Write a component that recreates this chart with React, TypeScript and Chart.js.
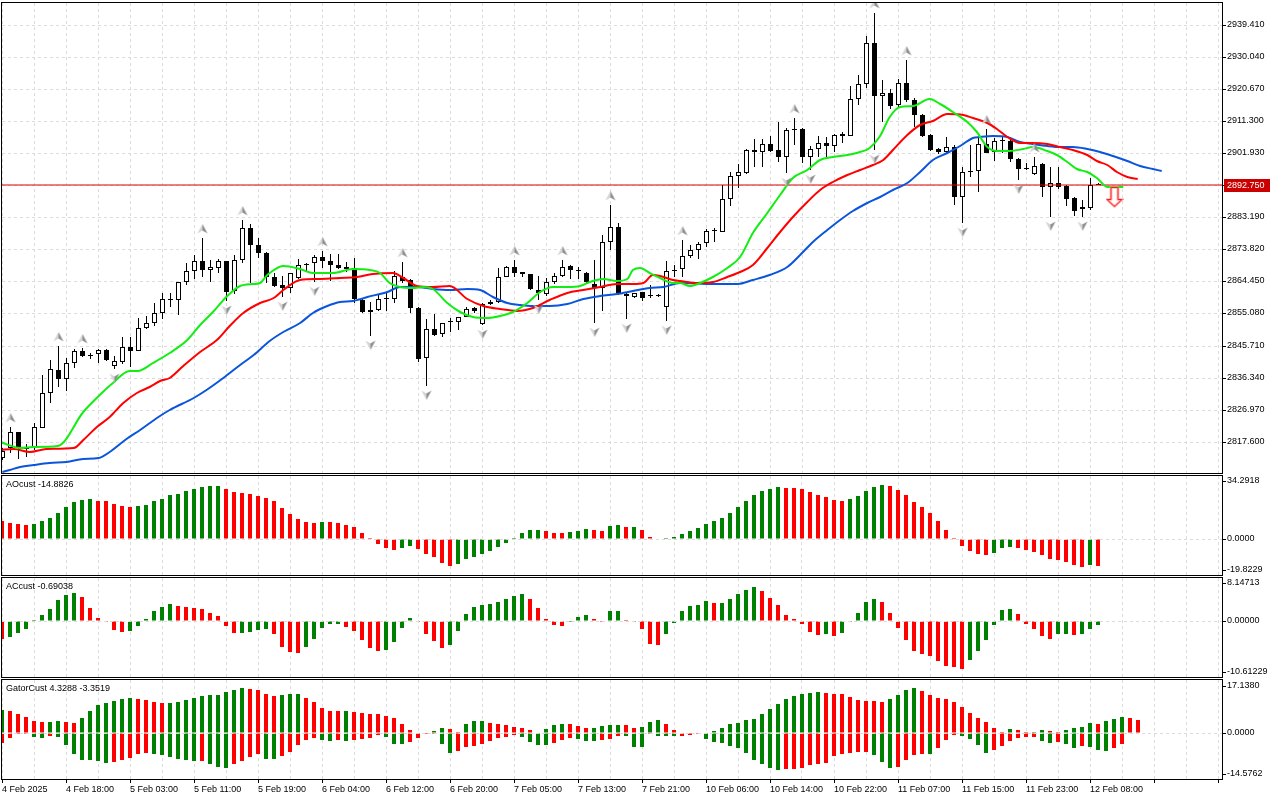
import React, { useEffect, useRef } from "react";
import { Chart, registerables } from "chart.js";

Chart.register(...registerables);

// ================= DATA =================
const timeLabels = [
  "4 Feb 2025", "4 Feb 18:00", "5 Feb 03:00", "5 Feb 11:00", "5 Feb 19:00", "6 Feb 04:00",
  "6 Feb 12:00", "6 Feb 20:00", "7 Feb 05:00", "7 Feb 13:00", "7 Feb 21:00", "10 Feb 06:00",
  "10 Feb 14:00", "10 Feb 22:00", "11 Feb 07:00", "11 Feb 15:00", "11 Feb 23:00", "12 Feb 08:00",
];
const priceTicks = [2939.41, 2930.04, 2920.67, 2911.3, 2901.93, 2892.56, 2883.19, 2873.82, 2864.45, 2855.08, 2845.71, 2836.34, 2826.97, 2817.6];
const lastPrice = 2892.75;

const openP = [
  2812.73, 2815.66, 2820.34, 2815.66, 2815.66, 2821.7, 2831.74, 2838.46, 2835.83, 2840.5,
  2844.01, 2842.94, 2843.14, 2844.31, 2839.63, 2840.99, 2845.18, 2844.21, 2850.74, 2852.2,
  2855.12, 2859.21, 2858.92, 2864.18, 2867.4, 2870.32, 2867.69, 2868.28, 2870.32, 2861.55,
  2870.62, 2879.97, 2875.0, 2872.66, 2865.65, 2863.41, 2862.43, 2865.35, 2869.45, 2869.74,
  2871.49, 2870.42, 2869.15, 2868.57, 2868.28, 2859.02, 2855.99, 2855.99, 2859.41, 2859.31,
  2865.84, 2864.87, 2856.68, 2841.97, 2850.44, 2849.08, 2852.59, 2852.49, 2854.15, 2856.78,
  2851.91, 2857.75, 2858.34, 2865.84, 2868.57, 2867.11, 2866.52, 2861.94, 2860.68, 2864.18,
  2866.13, 2868.96, 2867.79, 2867.01, 2863.6, 2862.43, 2876.07, 2880.26, 2860.77, 2859.8,
  2861.26, 2860.48, 2860.48, 2856.88, 2867.79, 2867.99, 2871.88, 2873.64, 2875.59, 2879.19,
  2878.99, 2888.45, 2895.37, 2896.24, 2902.87, 2902.18, 2904.53, 2902.87, 2900.92, 2909.01,
  2909.01, 2900.92, 2903.16, 2904.82, 2904.14, 2907.06, 2907.06, 2917.68, 2922.06, 2934.05,
  2918.75, 2919.43, 2916.02, 2922.36, 2917.49, 2913.1, 2907.25, 2903.16, 2902.38, 2903.65,
  2889.03, 2896.54, 2896.73, 2904.53, 2902.19, 2905.79, 2905.5, 2900.14, 2897.41, 2895.76,
  2898.78, 2891.96, 2893.12, 2892.35, 2888.93, 2885.62, 2885.82, 2892.95,
];
const highP = [
  2815.66, 2821.8, 2820.53, 2816.93, 2823.16, 2837.1, 2841.48, 2845.57, 2841.97, 2844.6,
  2844.89, 2843.43, 2844.79, 2844.6, 2842.55, 2848.11, 2848.11, 2853.85, 2854.34, 2858.05,
  2860.97, 2860.97, 2864.38, 2869.74, 2872.18, 2877.05, 2870.71, 2870.91, 2870.52, 2872.18,
  2882.41, 2881.14, 2877.05, 2872.95, 2866.82, 2866.04, 2867.01, 2870.91, 2869.93, 2872.18,
  2873.34, 2872.47, 2872.47, 2870.03, 2871.2, 2859.21, 2858.34, 2860.48, 2860.97, 2867.6,
  2870.23, 2865.06, 2856.88, 2853.37, 2854.93, 2852.39, 2853.66, 2854.15, 2857.07, 2857.07,
  2858.24, 2859.02, 2868.28, 2868.96, 2870.71, 2867.3, 2866.72, 2866.13, 2865.35, 2867.01,
  2870.71, 2869.15, 2868.57, 2867.3, 2870.71, 2878.02, 2886.79, 2881.43, 2860.97, 2861.16,
  2861.46, 2863.41, 2860.77, 2870.42, 2869.25, 2876.56, 2875.1, 2876.07, 2879.68, 2879.97,
  2892.63, 2896.54, 2898.68, 2903.06, 2905.99, 2905.99, 2906.96, 2911.15, 2909.2, 2912.13,
  2909.2, 2904.14, 2906.96, 2906.77, 2907.45, 2908.23, 2921.58, 2924.79, 2936.19, 2942.82,
  2923.33, 2920.6, 2923.53, 2929.18, 2917.97, 2913.3, 2907.45, 2903.35, 2906.77, 2904.33,
  2898.0, 2904.33, 2906.77, 2908.91, 2906.28, 2906.77, 2905.79, 2900.43, 2898.97, 2900.92,
  2898.97, 2898.0, 2897.8, 2892.64, 2889.03, 2888.25, 2894.78, 2893.1,
];
const lowP = [
  2812.25, 2814.2, 2812.44, 2813.22, 2815.17, 2821.51, 2829.01, 2833.69, 2832.42, 2839.24,
  2842.26, 2841.68, 2840.7, 2841.19, 2838.95, 2840.31, 2839.53, 2844.01, 2850.44, 2851.42,
  2853.47, 2856.88, 2854.63, 2863.41, 2865.06, 2865.84, 2864.38, 2866.82, 2858.83, 2860.68,
  2869.93, 2863.89, 2871.2, 2863.89, 2862.72, 2859.8, 2860.97, 2865.16, 2867.5, 2864.4,
  2868.28, 2864.6, 2867.99, 2867.3, 2858.05, 2855.12, 2848.59, 2855.8, 2855.8, 2858.05,
  2863.89, 2855.32, 2840.99, 2833.98, 2848.59, 2848.11, 2849.76, 2850.25, 2853.95, 2855.12,
  2851.71, 2857.56, 2858.05, 2865.65, 2865.84, 2865.84, 2861.94, 2859.02, 2860.19, 2863.7,
  2865.84, 2865.06, 2865.06, 2863.89, 2852.39, 2855.9, 2873.64, 2860.48, 2853.37, 2859.51,
  2858.82, 2859.51, 2859.99, 2852.98, 2865.84, 2865.84, 2871.2, 2871.0, 2874.42, 2876.07,
  2878.8, 2886.5, 2891.86, 2895.85, 2898.0, 2898.0, 2902.38, 2899.46, 2896.24, 2904.33,
  2898.97, 2897.02, 2900.92, 2900.92, 2902.38, 2905.01, 2906.86, 2916.02, 2920.9, 2902.87,
  2911.15, 2914.76, 2915.54, 2917.0, 2909.69, 2906.77, 2902.67, 2901.7, 2901.89, 2886.79,
  2881.63, 2894.88, 2890.69, 2901.89, 2899.65, 2902.09, 2899.46, 2894.1, 2897.02, 2895.56,
  2889.23, 2883.38, 2891.57, 2886.6, 2883.67, 2883.38, 2885.33, 2892.5,
];
const closeP = [
  2814.88, 2820.34, 2815.66, 2815.37, 2821.8, 2831.74, 2838.75, 2835.83, 2840.5, 2844.01,
  2842.55, 2842.55, 2844.31, 2841.48, 2841.09, 2845.18, 2844.21, 2850.74, 2852.2, 2855.12,
  2859.21, 2858.92, 2864.18, 2867.4, 2870.32, 2867.69, 2868.57, 2870.32, 2861.46, 2870.62,
  2879.97, 2875.0, 2872.66, 2865.65, 2863.21, 2862.43, 2866.82, 2869.15, 2869.15, 2871.49,
  2870.52, 2869.15, 2868.28, 2868.18, 2859.21, 2855.61, 2855.61, 2859.31, 2859.6, 2865.94,
  2864.67, 2856.58, 2841.77, 2850.44, 2848.79, 2852.2, 2852.78, 2853.95, 2856.29, 2855.8,
  2857.75, 2858.34, 2865.84, 2868.57, 2867.01, 2866.52, 2862.14, 2860.97, 2864.18, 2866.13,
  2868.76, 2867.79, 2867.5, 2864.38, 2862.43, 2876.07, 2880.26, 2860.97, 2860.19, 2860.97,
  2859.7, 2860.19, 2860.19, 2867.5, 2867.5, 2871.88, 2873.64, 2875.39, 2879.29, 2879.39,
  2888.45, 2895.37, 2896.34, 2902.87, 2902.18, 2904.53, 2902.67, 2900.92, 2908.72, 2908.72,
  2900.92, 2903.16, 2904.82, 2904.14, 2907.25, 2907.55, 2917.68, 2922.06, 2934.05, 2918.75,
  2919.43, 2915.73, 2922.36, 2917.49, 2913.1, 2906.96, 2902.87, 2902.38, 2903.84, 2889.23,
  2896.34, 2896.73, 2904.53, 2902.09, 2905.5, 2905.5, 2900.14, 2897.41, 2897.22, 2898.29,
  2891.96, 2893.12, 2892.15, 2888.64, 2885.13, 2886.3, 2892.64, 2892.75,
];

const fractalUpIdx = [1, 7, 10, 25, 30, 40, 50, 64, 70, 76, 85, 99, 109, 113, 123, 129];
const fractalDownIdx = [14, 28, 35, 39, 46, 53, 60, 67, 74, 78, 83, 98, 101, 109, 120, 127, 131, 135];
const sellSignalIdx = 139;
const sellSignalPrice = 2889.1;

// Alligator lines (bar index, price)
const lipsIdx = [-0.3, 2.2, 3.8, 6.9, 10.1, 11.9, 13.8, 15.9, 16.9, 18.8, 20.9, 23.1, 24.7, 26.3, 28.1, 29.7, 31.3, 32.2, 33.1, 35.1, 37.2, 38.8, 41.3, 43.8, 45.9, 47.2, 48.4, 49.7, 51.3, 52.6, 53.8, 55.6, 57.2, 58.8, 60.6, 62.2, 63.8, 65.6, 67.2, 68.8, 70.6, 72.2, 73.4, 75.1, 76.8, 78.1, 78.8, 79.7, 80.9, 82.2, 83.8, 84.7, 85.9, 87.2, 88.8, 90.6, 92.2, 93.8, 95.6, 97.2, 98.8, 100.6, 102.2, 103.8, 105.6, 107.2, 108.4, 109.7, 110.9, 112.2, 113.8, 115.9, 117.2, 118.8, 120.6, 121.8, 123.1, 124.3, 125.9, 127.6, 128.8, 130.6, 131.8, 133.1, 134.3, 135.6, 136.8, 138.1, 140.1];
const lipsVal = [2817.6, 2815.7, 2816.0, 2816.3, 2826.4, 2830.8, 2834.8, 2838.3, 2838.3, 2840.5, 2843.4, 2847.3, 2851.7, 2855.6, 2860.2, 2863.1, 2863.6, 2864.1, 2866.3, 2869.0, 2868.1, 2866.8, 2867.0, 2868.0, 2867.8, 2866.8, 2863.9, 2862.7, 2862.4, 2862.7, 2862.2, 2858.1, 2855.6, 2854.1, 2853.8, 2854.3, 2855.6, 2858.2, 2861.5, 2862.7, 2862.9, 2863.1, 2864.3, 2865.1, 2864.7, 2865.1, 2867.9, 2868.5, 2866.8, 2865.4, 2864.1, 2863.9, 2863.2, 2863.9, 2865.8, 2868.3, 2871.7, 2878.5, 2884.4, 2889.7, 2894.6, 2897.0, 2900.0, 2900.9, 2901.4, 2902.4, 2903.4, 2907.0, 2912.6, 2915.4, 2915.7, 2917.7, 2916.3, 2914.1, 2911.1, 2908.2, 2903.8, 2902.6, 2902.6, 2903.1, 2903.7, 2902.6, 2901.4, 2899.5, 2897.3, 2896.5, 2894.6, 2892.1, 2892.1];

const teethIdx = [-0.3, 1.4, 3.4, 5.5, 8.9, 10.1, 11.8, 13.4, 15.1, 16.8, 18.4, 19.7, 20.9, 22.6, 24.7, 26.8, 28.4, 30.1, 32.2, 33.9, 35.1, 37.2, 39.7, 42.2, 44.3, 46.3, 48.8, 50.1, 51.8, 53.8, 55.9, 58.1, 60.1, 62.2, 64.3, 66.3, 68.4, 70.6, 72.6, 74.7, 76.8, 78.8, 80.1, 81.3, 82.2, 83.8, 84.7, 86.8, 88.8, 90.6, 92.2, 93.8, 95.6, 97.2, 98.8, 100.6, 102.2, 103.8, 105.6, 107.2, 108.8, 110.1, 111.3, 113.1, 114.7, 116.3, 118.1, 120.1, 121.3, 123.1, 124.3, 125.6, 127.2, 128.8, 130.6, 132.2, 133.8, 135.6, 136.8, 138.1, 139.3, 140.6, 141.9];
const teethVal = [2815.2, 2815.4, 2814.7, 2815.4, 2815.7, 2818.1, 2822.0, 2824.9, 2829.0, 2831.7, 2833.7, 2835.4, 2836.3, 2839.7, 2843.9, 2847.3, 2851.4, 2855.1, 2858.1, 2859.5, 2861.9, 2864.9, 2865.1, 2865.4, 2865.8, 2866.6, 2866.8, 2865.4, 2863.1, 2862.7, 2863.1, 2859.2, 2857.3, 2856.3, 2855.9, 2856.6, 2859.0, 2861.0, 2861.9, 2862.7, 2863.7, 2863.7, 2863.9, 2866.3, 2866.1, 2864.9, 2864.6, 2863.9, 2864.2, 2865.8, 2867.3, 2869.3, 2874.1, 2879.0, 2883.4, 2887.8, 2891.2, 2893.6, 2895.6, 2897.0, 2898.5, 2900.0, 2902.9, 2907.3, 2910.2, 2911.4, 2913.3, 2913.1, 2912.1, 2910.7, 2908.9, 2906.8, 2905.0, 2904.8, 2904.5, 2903.7, 2902.9, 2901.4, 2899.7, 2898.5, 2896.5, 2894.9, 2894.4];

const jawIdx = [0.0, 0.9, 2.2, 3.9, 5.9, 8.0, 10.1, 12.0, 13.4, 15.5, 17.2, 19.3, 20.9, 23.9, 25.5, 27.6, 29.7, 31.4, 33.4, 35.1, 37.2, 38.8, 40.6, 42.2, 43.8, 45.6, 48.1, 49.7, 51.8, 53.8, 55.9, 58.1, 59.7, 61.3, 63.1, 64.7, 66.3, 68.4, 70.6, 72.6, 74.7, 76.8, 78.8, 80.9, 82.6, 84.7, 88.8, 91.9, 93.8, 95.9, 98.1, 99.7, 101.3, 103.1, 104.7, 106.3, 108.1, 109.7, 111.3, 113.1, 114.7, 116.3, 118.1, 119.7, 121.3, 122.2, 123.8, 125.6, 127.2, 128.8, 130.6, 132.2, 133.8, 135.6, 137.2, 138.8, 140.6, 142.2, 143.8, 144.9];
const jawVal = [2808.6, 2809.3, 2810.1, 2810.8, 2811.5, 2811.6, 2812.5, 2812.9, 2814.7, 2818.3, 2821.0, 2824.4, 2826.9, 2830.3, 2832.7, 2836.1, 2840.0, 2842.9, 2847.1, 2849.6, 2852.2, 2855.1, 2857.3, 2858.5, 2858.8, 2860.0, 2861.5, 2862.7, 2862.7, 2862.2, 2861.9, 2862.2, 2861.9, 2860.0, 2858.2, 2857.6, 2857.3, 2857.3, 2857.9, 2859.2, 2860.2, 2860.8, 2861.7, 2862.4, 2862.9, 2863.9, 2863.6, 2863.6, 2864.9, 2866.3, 2868.8, 2872.2, 2876.1, 2879.5, 2882.4, 2885.0, 2887.3, 2889.2, 2891.2, 2893.1, 2896.5, 2900.0, 2901.9, 2904.0, 2906.3, 2906.8, 2907.0, 2906.6, 2905.3, 2904.5, 2904.0, 2903.8, 2903.7, 2903.1, 2902.3, 2901.1, 2899.7, 2898.2, 2897.3, 2896.8];

const aoValues = [
  9.7, 8.6, 8.2, 7.7, 8.2, 9.7, 11.3, 14.2, 17.5, 20.0,
  21.1, 21.7, 20.6, 20.4, 18.9, 18.0, 17.5, 18.0, 18.4, 20.6,
  21.9, 23.9, 24.4, 26.0, 27.3, 28.2, 28.8, 29.0, 27.3, 25.5,
  25.0, 24.2, 23.3, 22.4, 20.6, 16.9, 13.7, 10.6, 9.1, 8.6,
  9.1, 9.0, 8.6, 7.5, 6.4, 3.3, 0.4, -2.7, -4.9, -6.2,
  -4.9, -3.8, -5.5, -8.2, -10.0, -13.1, -14.9, -13.7, -11.3, -10.0,
  -8.2, -6.7, -4.6, -2.2, 0.3, 3.1, 4.7, 4.8, 4.2, 3.1,
  3.0, 3.6, 4.2, 5.1, 4.6, 4.2, 6.9, 7.3, 6.3, 6.5,
  4.7, 0.9, -0.1, 0.2, 0.9, 2.7, 4.2, 5.8, 8.2, 9.7,
  11.3, 14.2, 17.5, 20.6, 23.9, 26.0, 27.3, 28.2, 27.7, 27.6,
  27.3, 25.5, 23.9, 22.8, 21.1, 20.6, 21.7, 23.3, 26.0, 28.2,
  29.3, 28.8, 26.6, 23.9, 20.0, 17.3, 14.0, 9.7, 4.7, 0.4,
  -3.8, -6.6, -8.2, -8.7, -7.7, -4.9, -4.4, -4.9, -6.0, -7.1,
  -8.7, -10.9, -11.5, -12.6, -14.2, -15.3, -14.6, -14.8826,
];
const acValues = [
  -3.5, -3.0, -2.2, -1.5, 0.1, 1.1, 2.3, 4.0, 4.9, 5.3,
  4.5, 2.5, 0.6, -0.2, -1.7, -2.1, -1.9, -0.9, 0.4, 1.9,
  2.7, 3.2, 2.8, 2.6, 2.5, 2.3, 1.5, 0.9, -0.9, -2.3,
  -2.2, -2.1, -1.7, -1.6, -2.5, -4.9, -5.9, -6.1, -4.9, -3.4,
  -1.3, -0.6, -0.5, -1.1, -1.9, -3.6, -5.1, -5.7, -5.5, -4.0,
  -1.3, 0.6, -0.2, -2.5, -3.8, -5.1, -4.5, -1.9, 1.3, 2.7,
  3.0, 3.2, 3.6, 4.2, 4.7, 5.1, 4.2, 2.5, 0.4, -0.8,
  -0.9, -0.1, 0.8, 1.1, 0.4, -0.1, 1.8, 1.9, 0.1, -0.1,
  -1.5, -4.3, -4.5, -2.4, -0.3, 1.9, 2.8, 3.0, 3.8, 3.4,
  3.5, 4.2, 5.1, 5.9, 6.4, 5.7, 4.4, 3.0, 1.1, 0.4,
  -0.5, -2.0, -2.6, -2.5, -2.8, -2.2, -0.2, 1.5, 3.6, 4.2,
  3.6, 1.5, -1.3, -3.6, -5.7, -6.3, -6.6, -7.6, -8.5, -8.7,
  -9.1, -7.4, -5.7, -3.6, -0.7, 2.1, 2.3, 1.3, -0.5, -1.6,
  -2.8, -3.5, -2.5, -2.4, -2.6, -2.5, -1.5, -0.69038,
];
const gatorUpper = [
  7.5, 7.2, 6.2, 5.2, 4.0, 3.6, 3.7, 4.0, 3.6, 3.5,
  4.9, 7.2, 9.1, 9.7, 10.4, 11.0, 11.3, 11.0, 10.7, 10.0,
  9.7, 9.8, 10.0, 10.7, 11.3, 12.0, 12.3, 12.4, 13.2, 13.9,
  14.5, 14.2, 13.9, 12.6, 12.0, 12.3, 12.6, 12.7, 11.3, 10.0,
  8.1, 7.2, 7.1, 7.2, 6.8, 6.7, 6.2, 6.1, 5.6, 4.9,
  3.0, 1.1, 0.3, 0.2, 0.7, 1.7, 1.4, 0.4, 3.0, 4.0,
  4.1, 3.3, 3.2, 2.7, 2.0, 1.7, 1.1, 0.1, 1.4, 2.7,
  3.0, 2.9, 2.3, 1.7, 1.8, 2.3, 2.7, 2.8, 2.7, 1.7,
  2.0, 3.6, 4.3, 3.0, 1.1, 0.05, 0.04, 0.03, 0.02, 0.7,
  1.7, 3.0, 3.3, 4.3, 4.6, 6.2, 7.8, 9.4, 11.0, 12.0,
  12.6, 12.9, 13.2, 12.9, 12.8, 12.6, 11.6, 10.7, 10.4, 10.3,
  10.0, 11.0, 12.3, 13.9, 14.5, 13.6, 12.3, 11.3, 11.2, 10.0,
  8.4, 6.5, 4.9, 3.6, 1.7, 0.4, 1.4, 1.1, 0.4, 0.5,
  1.1, 0.7, 0.4, 1.1, 1.7, 2.0, 3.3, 3.2, 4.0, 4.6,
  5.2, 5.1, 4.3288,
];
const gatorLower = [
  -3.0, -1.4, -0.2, -0.05, -1.1, -1.4, -0.7, -1.1, -3.6, -6.5,
  -8.4, -8.5, -8.8, -9.4, -9.1, -8.4, -7.8, -6.5, -6.4, -6.5,
  -6.8, -7.5, -8.1, -8.4, -8.8, -8.7, -9.7, -10.7, -11.0, -9.7,
  -8.8, -7.5, -6.5, -8.1, -8.2, -7.2, -5.9, -3.6, -2.1, -1.4,
  -2.1, -2.5, -2.1, -2.5, -2.1, -1.8, -1.4, -0.5, -1.1, -3.3,
  -3.4, -2.7, -1.4, -0.05, -0.03, -3.3, -6.2, -5.6, -4.3, -3.9,
  -3.3, -2.3, -1.4, -1.1, -0.5, -1.1, -2.7, -3.6, -3.7, -3.0,
  -2.0, -1.4, -1.7, -2.3, -2.4, -2.0, -1.7, -0.7, -0.8, -4.3,
  -4.4, -0.2, -0.7, -0.8, -0.9, -0.7, -0.6, -0.2, -1.7, -2.7,
  -3.0, -3.9, -4.6, -6.2, -8.4, -9.7, -11.0, -11.6, -11.5, -11.3,
  -11.2, -10.0, -9.9, -9.4, -7.2, -6.5, -6.2, -5.9, -5.8, -6.8,
  -9.1, -11.0, -10.7, -8.4, -6.8, -6.5, -6.6, -4.6, -2.0, -0.4,
  -0.7, -1.7, -3.6, -6.2, -5.2, -3.9, -2.3, -1.4, -1.1, -1.0,
  -2.3, -3.0, -2.7, -3.3, -4.6, -3.9, -4.3, -5.2, -5.6, -4.6,
  -3.3519,
];

const aoRange = [-19.8229, 34.2918];
const aoTickLabels = ["34.2918", "0.0000", "-19.8229"];
const acRange = [-10.61229, 8.14713];
const acTickLabels = ["8.14713", "0.00000", "-10.61229"];
const gatorRange = [-14.5762, 17.138];
const gatorTickLabels = ["17.1380", "0.0000", "-14.5762"];

// ================= STYLE / LAYOUT =================
const FONT_FAMILY = "'Liberation Sans', Arial, sans-serif";
const FONT = { family: FONT_FAMILY, size: 9 };
const GRID_COLOR = "#dcdcdc";
const GREEN = "#008000";
const RED = "#ff0000";
const W = 1280;
const AXIS_W = 58;
const GRID_STEP = 4;
const LABEL_STEP = 8;
const MAIN_X = { min: -0.0625, max: 152.4375 };
const SUB_X = { min: 0, max: 152.5 };
const MAIN_Y = { min: 2808.446, max: 2945.841 };
const PANEL_INNER_H = 99;
const TICK_INSET_PX = 5.5;

function trendColors(vals: number[], firstUp: boolean, useAbs: boolean) {
  return vals.map((v, i) => {
    if (i === 0) return firstUp ? GREEN : RED;
    const a = useAbs ? Math.abs(v) : v;
    const b = useAbs ? Math.abs(vals[i - 1]) : vals[i - 1];
    return a > b ? GREEN : RED;
  });
}

function makeFractalArrow(up: boolean) {
  const c = document.createElement("canvas");
  c.width = 12;
  c.height = 40;
  const g = c.getContext("2d")!;
  const cy = up ? 11 : 29;
  const s = up ? 1 : -1;
  const tip = [6, cy - 5 * s];
  const lw = [1, cy + 4.5 * s];
  const rw = [11, cy + 4.5 * s];
  const notch = [6, cy + 1.5 * s];
  g.fillStyle = "#d2d2d2";
  g.beginPath();
  g.moveTo(tip[0], tip[1]);
  g.lineTo(lw[0], lw[1]);
  g.lineTo(notch[0], notch[1]);
  g.closePath();
  g.fill();
  g.fillStyle = "#8c8c8c";
  g.beginPath();
  g.moveTo(tip[0], tip[1]);
  g.lineTo(rw[0], rw[1]);
  g.lineTo(notch[0], notch[1]);
  g.closePath();
  g.fill();
  return c;
}

function makeSellArrow() {
  const c = document.createElement("canvas");
  c.width = 18;
  c.height = 22;
  const g = c.getContext("2d")!;
  g.beginPath();
  g.moveTo(5.5, 1.5);
  g.lineTo(12.5, 1.5);
  g.lineTo(12.5, 13.5);
  g.lineTo(16.5, 13.5);
  g.lineTo(9, 20.5);
  g.lineTo(1.5, 13.5);
  g.lineTo(5.5, 13.5);
  g.closePath();
  g.fillStyle = "#ffffff";
  g.fill();
  g.lineWidth = 2.2;
  g.strokeStyle = "#ff9a9a";
  g.stroke();
  g.lineWidth = 1;
  g.strokeStyle = "#ff1a1a";
  g.stroke();
  return c;
}

function decorPlugin(cfg: { hGrid?: number[]; zeroLevel?: boolean; title?: string; priceBox?: number }) {
  return {
    id: "decor",
    beforeDatasetsDraw(chart: any) {
      const { ctx, chartArea: a, scales } = chart;
      const xs = scales.x;
      const ys = scales.y;
      ctx.save();
      ctx.beginPath();
      ctx.rect(a.left, a.top, a.right - a.left, a.bottom - a.top);
      ctx.clip();
      ctx.strokeStyle = GRID_COLOR;
      ctx.lineWidth = 1;
      ctx.setLineDash([3, 3]);
      for (let v = 0; v <= xs.max; v += GRID_STEP) {
        const x = Math.floor(xs.getPixelForValue(v)) + 0.5;
        ctx.beginPath();
        ctx.moveTo(x, a.top);
        ctx.lineTo(x, a.bottom);
        ctx.stroke();
      }
      for (const v of cfg.hGrid || []) {
        const y = Math.round(ys.getPixelForValue(v)) + 0.5;
        ctx.beginPath();
        ctx.moveTo(a.left, y);
        ctx.lineTo(a.right, y);
        ctx.stroke();
      }
      ctx.restore();
    },
    afterDatasetsDraw(chart: any) {
      const { ctx, chartArea: a, scales } = chart;
      ctx.save();
      if (cfg.zeroLevel) {
        const y = Math.round(scales.y.getPixelForValue(0)) + 0.5;
        ctx.strokeStyle = GRID_COLOR;
        ctx.lineWidth = 1;
        ctx.setLineDash([3, 3]);
        ctx.beginPath();
        ctx.moveTo(a.left, y);
        ctx.lineTo(a.right, y);
        ctx.stroke();
      }
      if (cfg.title) {
        ctx.setLineDash([]);
        ctx.fillStyle = "#000";
        ctx.font = `${FONT.size}px ${FONT_FAMILY}`;
        ctx.textBaseline = "middle";
        ctx.textAlign = "left";
        ctx.fillText(cfg.title, a.left + 4, a.top + 9);
      }
      ctx.restore();
    },
    afterDraw(chart: any) {
      const { ctx, chartArea: a, scales } = chart;
      ctx.save();
      ctx.setLineDash([]);
      ctx.strokeStyle = "#000";
      ctx.lineWidth = 1;
      ctx.strokeRect(a.left - 0.5, a.top - 0.5, a.right - a.left + 1, a.bottom - a.top + 1);
      if (cfg.priceBox !== undefined) {
        const y = Math.round(scales.y.getPixelForValue(cfg.priceBox));
        ctx.fillStyle = "#cc0000";
        ctx.fillRect(a.right + 2, y - 6, 46, 13);
        ctx.fillStyle = "#ffffff";
        ctx.font = `${FONT.size}px ${FONT_FAMILY}`;
        ctx.textBaseline = "middle";
        ctx.textAlign = "left";
        ctx.fillText(cfg.priceBox.toFixed(3), a.right + 5, y + 0.5);
      }
      ctx.restore();
    },
  };
}

function baseOptions(padTop: number, padBottom: number) {
  return {
    responsive: false,
    animation: false,
    events: [],
    layout: { padding: { left: 2, right: 0, top: padTop, bottom: padBottom }, autoPadding: false },
    plugins: { legend: { display: false }, tooltip: { enabled: false }, title: { display: false } },
  };
}

function rightAxis(min: number, max: number, tickFn: (s: any) => number[], labelFn: (v: any, i: number) => string) {
  return {
    type: "linear",
    position: "right",
    min,
    max,
    alignToPixels: true,
    afterFit: (s: any) => {
      s.width = AXIS_W;
      s.paddingTop = 0;
      s.paddingBottom = 0;
      s.paddingLeft = 0;
      s.paddingRight = 0;
    },
    afterBuildTicks: (s: any) => {
      s.ticks = tickFn(s).map((v) => ({ value: v }));
    },
    ticks: { autoSkip: false, font: FONT, color: "#000", padding: 1, callback: labelFn },
    grid: { drawOnChartArea: false, drawTicks: true, tickLength: 4, tickColor: "#000", tickWidth: 1 },
    border: { display: false },
  };
}

function subTicks(labels: string[]) {
  return {
    tickFn: (s: any) => {
      const inset = (TICK_INSET_PX * (s.max - s.min)) / PANEL_INNER_H;
      return [s.max - inset, 0, s.min + inset];
    },
    labelFn: (_v: any, i: number) => labels[i],
  };
}

function buildMain() {
  const idx = openP.map((_, i) => i);
  const upImg = makeFractalArrow(true);
  const downImg = makeFractalArrow(false);
  const sellImg = makeSellArrow();
  const line = (xs: number[], ys: number[], color: string, order: number) => ({
    type: "line",
    data: xs.map((x, k) => ({ x, y: ys[k] })),
    borderColor: color,
    borderWidth: 2,
    pointRadius: 0,
    cubicInterpolationMode: "monotone",
    order,
  });
  return {
    type: "bar",
    data: {
      datasets: [
        {
          type: "line",
          showLine: false,
          data: fractalUpIdx.map((i) => ({ x: i, y: highP[i] })),
          pointStyle: upImg,
          pointRadius: 6,
          order: 0,
        },
        {
          type: "line",
          showLine: false,
          data: fractalDownIdx.map((i) => ({ x: i, y: lowP[i] })),
          pointStyle: downImg,
          pointRadius: 6,
          order: 0,
        },
        {
          type: "line",
          showLine: false,
          data: [{ x: sellSignalIdx, y: sellSignalPrice }],
          pointStyle: sellImg,
          pointRadius: 8,
          order: 0,
        },
        line(lipsIdx, lipsVal, "#12ee12", 1),
        line(teethIdx, teethVal, "#ff0000", 1.1),
        line(jawIdx, jawVal, "#0a55dc", 1.2),
        {
          type: "line",
          data: [
            { x: MAIN_X.min, y: lastPrice },
            { x: MAIN_X.max, y: lastPrice },
          ],
          borderColor: "#e00000",
          borderWidth: 1,
          pointRadius: 0,
          order: 2,
        },
        {
          type: "bar",
          data: idx.map((i) => ({ x: i, y: [Math.min(openP[i], closeP[i]), Math.max(openP[i], closeP[i])] })),
          backgroundColor: idx.map((i) => (closeP[i] >= openP[i] ? "#ffffff" : "#000000")),
          borderColor: "#000000",
          borderWidth: 1,
          borderSkipped: false,
          barThickness: 5,
          minBarLength: 1,
          inflateAmount: 0,
          grouped: false,
          order: 4,
        },
        {
          type: "bar",
          data: idx.map((i) => ({ x: i, y: [lowP[i], highP[i]] })),
          backgroundColor: "#000000",
          borderWidth: 0,
          barThickness: 1,
          inflateAmount: 0,
          grouped: false,
          order: 5,
        },
      ],
    },
    options: {
      ...baseOptions(3, 1),
      scales: {
        x: { type: "linear", min: MAIN_X.min, max: MAIN_X.max, display: false, offset: false },
        y: rightAxis(MAIN_Y.min, MAIN_Y.max, () => priceTicks, (v: any) => Number(v).toFixed(3)),
      },
    },
    plugins: [decorPlugin({ hGrid: priceTicks, priceBox: lastPrice })],
  };
}

function histDataset(vals: number[], colors: string[]) {
  return {
    type: "bar",
    data: vals.map((v, i) => ({ x: i, y: v })),
    backgroundColor: colors,
    borderWidth: 0,
    barThickness: 4,
    inflateAmount: 0,
    grouped: false,
  };
}

function buildSub(datasets: any[], range: number[], labels: string[], title: string, withXAxis: boolean) {
  const st = subTicks(labels);
  const x: any = withXAxis
    ? {
        type: "linear",
        min: SUB_X.min,
        max: SUB_X.max,
        offset: false,
        position: "bottom",
        afterFit: (s: any) => {
          s.height = 21;
          s.paddingLeft = 0;
          s.paddingRight = 0;
          s.paddingTop = 0;
          s.paddingBottom = 0;
        },
        afterBuildTicks: (s: any) => {
          const t = [];
          for (let v = 0; v <= SUB_X.max; v += GRID_STEP) t.push({ value: v });
          s.ticks = t;
        },
        ticks: {
          autoSkip: false,
          maxRotation: 0,
          minRotation: 0,
          align: "start",
          padding: 1,
          font: FONT,
          color: "#000",
          callback: (v: any) => (v % LABEL_STEP === 0 && timeLabels[v / LABEL_STEP] ? timeLabels[v / LABEL_STEP] : ""),
        },
        grid: {
          drawOnChartArea: false,
          drawTicks: true,
          tickLength: 4,
          offset: false,
          tickColor: (c: any) => (c.tick && c.tick.value % LABEL_STEP === 0 ? "#000" : "rgba(0,0,0,0)"),
        },
        border: { display: false },
      }
    : { type: "linear", min: SUB_X.min, max: SUB_X.max, display: false, offset: false };
  return {
    type: "bar",
    data: { datasets },
    options: {
      ...baseOptions(2, withXAxis ? 0 : 1),
      scales: {
        x,
        y: rightAxis(range[0], range[1], st.tickFn, st.labelFn),
      },
    },
    plugins: [decorPlugin({ zeroLevel: true, title })],
  };
}

function buildAO() {
  return buildSub(
    [histDataset(aoValues, trendColors(aoValues, false, false))],
    aoRange,
    aoTickLabels,
    `AOcust ${aoValues[aoValues.length - 1].toFixed(4)}`,
    false
  );
}

function buildAC() {
  return buildSub(
    [histDataset(acValues, trendColors(acValues, false, false))],
    acRange,
    acTickLabels,
    `ACcust ${acValues[acValues.length - 1].toFixed(5)}`,
    false
  );
}

function buildGator() {
  return buildSub(
    [
      histDataset(gatorUpper, trendColors(gatorUpper, true, true)),
      histDataset(gatorLower, trendColors(gatorLower, false, true)),
    ],
    gatorRange,
    gatorTickLabels,
    `GatorCust ${gatorUpper[gatorUpper.length - 1].toFixed(4)} ${gatorLower[gatorLower.length - 1].toFixed(4)}`,
    true
  );
}

function ChartCanvas({ top, height, build }: { top: number; height: number; build: () => any }) {
  const ref = useRef<HTMLCanvasElement>(null);
  useEffect(() => {
    const chart = new Chart(ref.current as HTMLCanvasElement, build());
    return () => chart.destroy();
  }, []);
  return (
    <canvas
      ref={ref}
      width={W}
      height={height}
      style={{ position: "absolute", left: 0, top, width: W, height, display: "block" }}
    />
  );
}

export default function App() {
  return (
    <div
      style={{
        position: "absolute",
        left: 0,
        top: 0,
        width: W,
        height: 800,
        background: "#ffffff",
        overflow: "hidden",
      }}
    >
      <ChartCanvas top={0} height={474} build={buildMain} />
      <ChartCanvas top={474} height={102} build={buildAO} />
      <ChartCanvas top={576} height={102} build={buildAC} />
      <ChartCanvas top={678} height={122} build={buildGator} />
    </div>
  );
}
